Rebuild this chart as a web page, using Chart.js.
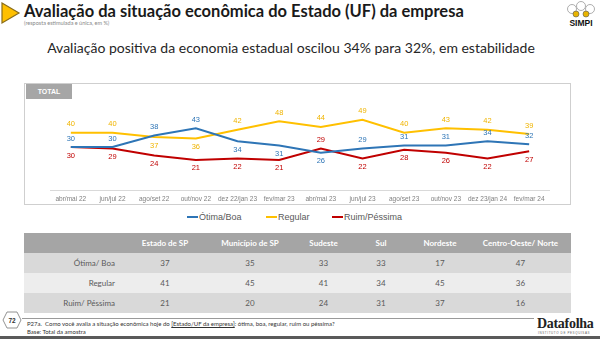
<!DOCTYPE html>
<html lang="pt">
  <head>
    <meta charset="UTF-8" />
    <script src="https://cdn.jsdelivr.net/npm/chart.js@4.4.0/dist/chart.umd.min.js"></script>
    <title>Avaliação da situação econômica</title>
    <style>
      body { margin: 0; width: 600px; height: 339px; position: relative; overflow: hidden; background: #fff; font-family: Lato, "Liberation Sans", sans-serif; }
      .abs { position: absolute; }
      #title { left: 24px; top: 1px; font-weight: bold; font-size: 16.5px; color: #1a1a1a; white-space: nowrap; }
      #note { left: 24px; top: 20px; font-size: 5.5px; color: #888; }
      #sub { left: 0; width: 582px; top: 39px; text-align: center; font-size: 14px; color: #262626; white-space: nowrap; }
      #box { left: 24px; top: 83px; width: 545px; height: 120px; border: 1.5px solid #cfcfcf; }
      #tag { left: 26px; top: 84px; width: 46px; height: 15px; background: #a6a6a6; color: #fff; font: bold 7px "Liberation Sans", sans-serif; line-height: 15px; text-align: center; }
      #chart { left: 50px; top: 104px; }
      .leg { top: 212px; font: 9px "Liberation Sans", sans-serif; color: #595959; line-height: 10px; white-space: nowrap; }
      .leg i { display: inline-block; width: 11px; height: 2px; vertical-align: middle; margin-right: 1px; margin-top: -2px; }
      table { position: absolute; left: 24px; top: 233px; width: 547px; border-collapse: collapse; font-size: 8px; color: #595959; table-layout: fixed; }
      td, th { height: 20px; padding: 0; text-align: center; }
      th { background: #a5a5a5; color: #fff; font-weight: bold; }
      td.lab { text-align: right; padding-right: 10px; }
      tr.r1 td, tr.r3 td { background: #d9d9d9; }
      tr.r2 td { background: #ededed; }
      #foot1 { left: 27px; top: 320px; font-size: 6px; color: #333; white-space: nowrap; }
      #foot2 { left: 27px; top: 328px; font-size: 6px; color: #333; }
      #rule { left: 22px; top: 318px; width: 512px; height: 1px; background: #9a9a9a; }
      #bar { left: 0; top: 336px; width: 600px; height: 3px; background: #5a5a5a; }
      #df { left: 537px; top: 316px; font: bold 14px "Liberation Serif", serif; color: #222; letter-spacing: -0.3px; }
      #df2 { left: 538px; top: 331px; font: 3px "Liberation Sans", sans-serif; color: #666; letter-spacing: 0.6px; }
    </style>
  </head>
  <body>
    <svg class="abs" style="left:0;top:1px" width="22" height="24">
      <polygon points="2,2 19,12 2,22" fill="#ffc000" stroke="#8a6d1a" stroke-width="1.2" />
    </svg>
    <div id="title" class="abs">Avaliação da situação econômica do Estado (UF) da empresa</div>
    <div id="note" class="abs">(resposta estimulada e única, em %)</div>
    <svg class="abs" style="left:562px;top:0" width="38" height="28">
      <circle cx="10" cy="9" r="4.5" fill="#fff" stroke="#999" stroke-width="0.8" />
      <circle cx="19" cy="6" r="4.5" fill="#fff" stroke="#999" stroke-width="0.8" />
      <circle cx="28" cy="9" r="4.5" fill="#fff" stroke="#999" stroke-width="0.8" />
      <circle cx="14" cy="14" r="3" fill="#e8b400" stroke="#555" stroke-width="0.6" />
      <circle cx="24" cy="14" r="3" fill="#e8b400" stroke="#555" stroke-width="0.6" />
      <text x="19" y="26" text-anchor="middle" font-family="Liberation Sans" font-weight="bold" font-size="8.5" fill="#111">SIMPI</text>
    </svg>
    <div id="sub" class="abs">Avaliação positiva da economia estadual oscilou 34% para 32%, em estabilidade</div>

    <div id="box" class="abs"></div>
    <div id="tag" class="abs">TOTAL</div>
    <canvas id="chart" class="abs" width="500" height="103"></canvas>

    <div class="abs leg" style="left:187px"><i style="background:#2e75b6"></i>Ótima/Boa</div>
    <div class="abs leg" style="left:266px"><i style="background:#ffc000"></i>Regular</div>
    <div class="abs leg" style="left:332px"><i style="background:#c00000"></i>Ruim/Péssima</div>

    <table id="tbl"></table>

    <div id="rule" class="abs"></div>
    <svg class="abs" style="left:2px;top:311px" width="20" height="18">
      <polygon points="5,1 15,1 19,9 15,17 5,17 1,9" fill="#fff" stroke="#777" stroke-width="0.8" />
      <text x="10" y="11.5" text-anchor="middle" font-family="Liberation Sans" font-weight="bold" font-size="6.5" fill="#333">72</text>
    </svg>
    <div id="foot1" class="abs">P27a.&nbsp; Como você avalia a situação econômica hoje do <u>[Estado/UF da empresa]</u>: ótima, boa, regular, ruim ou péssima?</div>
    <div id="foot2" class="abs">Base: Total da amostra</div>
    <div id="df" class="abs">Datafolha</div>
    <div id="df2" class="abs">INSTITUTO DE PESQUISAS</div>
    <div id="bar" class="abs"></div>

    <script>
      const periods = ["abr/mai 22", "jun/jul 22", "ago/set 22", "out/nov 22", "dez 22/jan 23", "fev/mar 23",
        "abr/mai 23", "jun/jul 23", "ago/set 23", "out/nov 23", "dez 23/jan 24", "fev/mar 24"];
      const otimaBoa = [30, 30, 38, 43, 34, 31, 26, 29, 31, 31, 34, 32];
      const regular = [40, 40, 37, 36, 42, 48, 44, 49, 40, 43, 42, 39];
      const ruimPessima = [30, 29, 24, 21, 22, 21, 29, 22, 28, 26, 22, 27];

      // tabela por região
      const regions = ["Estado de  SP", "Município de SP", "Sudeste", "Sul", "Nordeste", "Centro-Oeste/ Norte"];
      const rowNames = ["Ótima/ Boa", "Regular", "Ruim/ Péssima"];
      const regOtimaBoa = [37, 35, 33, 33, 17, 47];
      const regRegular = [41, 45, 41, 34, 45, 36];
      const regRuim = [21, 20, 24, 31, 37, 16];

      const colWidths = [101, 80, 90, 57, 58, 60, 101];
      const tbl = document.getElementById("tbl");
      let html = "<colgroup>" + colWidths.map((w) => `<col style="width:${w}px">`).join("") + "</colgroup>";
      html += "<tr><th></th>" + regions.map((r) => `<th>${r}</th>`).join("") + "</tr>";
      [regOtimaBoa, regRegular, regRuim].forEach((vals, i) => {
        html += `<tr class="r${i + 1}"><td class="lab">${rowNames[i]}</td>` + vals.map((v) => `<td>${v}</td>`).join("") + "</tr>";
      });
      tbl.innerHTML = html;

      // rótulos acima/abaixo de cada ponto
      const pointLabels = {
        id: "pointLabels",
        afterDatasetsDraw(chart) {
          const ctx = chart.ctx;
          ctx.save();
          ctx.font = "7.5px 'Liberation Sans', sans-serif";
          ctx.textAlign = "center";
          ctx.textBaseline = "middle";
          chart.data.datasets.forEach((ds, i) => {
            chart.getDatasetMeta(i).data.forEach((pt, j) => {
              const up = ds.labelSide[j] === "a";
              ctx.fillStyle = ds.labelColor;
              ctx.fillText(ds.data[j], pt.x, pt.y + (up ? -8.5 : 8.5));
            });
          });
          ctx.restore();
        },
      };

      const ctx = document.getElementById("chart").getContext("2d");
      new Chart(ctx, {
        type: "line",
        data: {
          labels: periods,
          datasets: [
            { label: "Ótima/Boa", data: otimaBoa, borderColor: "#2e75b6", labelColor: "#2e75b6",
              labelSide: ["a", "a", "a", "a", "b", "b", "b", "a", "a", "a", "a", "a"] },
            { label: "Regular", data: regular, borderColor: "#ffc000", labelColor: "#f0b400",
              labelSide: ["a", "a", "b", "b", "a", "a", "a", "a", "a", "a", "a", "a"] },
            { label: "Ruim/Péssima", data: ruimPessima, borderColor: "#c00000", labelColor: "#c00000",
              labelSide: ["b", "b", "b", "b", "b", "b", "a", "b", "b", "b", "b", "b"] },
          ],
        },
        options: {
          responsive: false,
          animation: false,
          layout: { padding: 0 },
          elements: {
            line: { borderWidth: 2, tension: 0 },
            point: { radius: 0 },
          },
          plugins: { legend: { display: false }, tooltip: { enabled: false } },
          scales: {
            x: {
              offset: true,
              grid: { display: false, drawTicks: false },
              border: { display: true, color: "#d9d9d9", width: 1 },
              ticks: { color: "#808080", font: { size: 6.5, family: "'Liberation Sans', sans-serif" }, padding: 5, maxRotation: 0, autoSkip: false },
              afterFit: (s) => { s.height = 17; },
            },
            y: { display: false, min: 0, max: 60 },
          },
        },
        plugins: [pointLabels],
      });
    </script>
  </body>
</html>
